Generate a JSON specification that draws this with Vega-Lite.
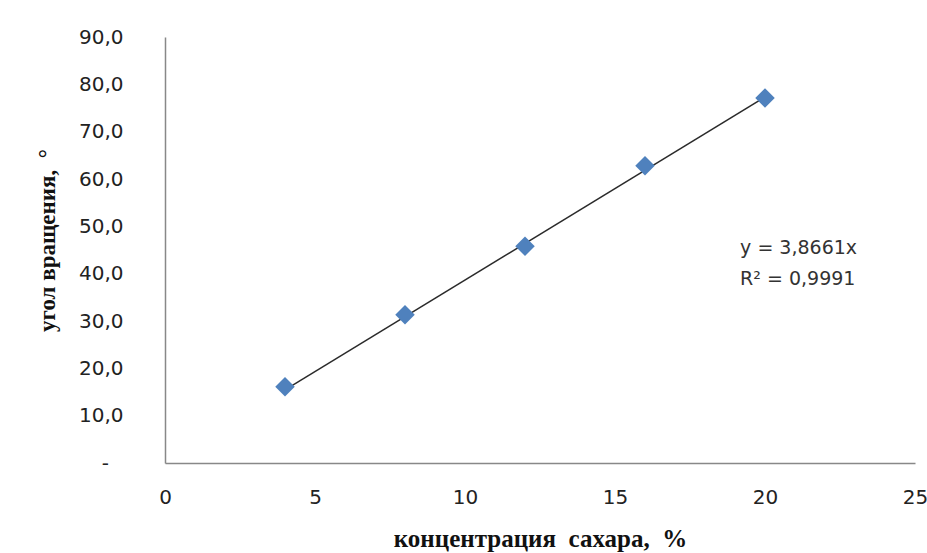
{
  "$schema": "https://vega.github.io/schema/vega-lite/v6.json",
  "width": 750,
  "height": 426,
  "autosize": "none",
  "padding": {"left": 165, "top": 37, "right": 12, "bottom": 90},
  "background": "white",
  "config": {"view": {"stroke": null}},
  "datasets": {
    "points": [
      {"conc": 4, "angle": 16.1},
      {"conc": 8, "angle": 31.3},
      {"conc": 12, "angle": 45.8},
      {"conc": 16, "angle": 62.8},
      {"conc": 20, "angle": 77.1}
    ],
    "trend": [
      {"conc": 4, "angle": 15.46},
      {"conc": 20, "angle": 77.32}
    ],
    "labels": [
      {"conc": 19.17, "angle": 45.4, "text": "y = 3,8661x"},
      {"conc": 19.17, "angle": 38.9, "text": "R² = 0,9991"}
    ]
  },
  "layer": [
    {
      "data": {"name": "trend"},
      "mark": {"type": "line", "color": "#2b2b2b", "strokeWidth": 1.5},
      "encoding": {
        "x": {"field": "conc", "type": "quantitative", "scale": {"domain": [0, 25], "nice": false, "zero": true},
          "axis": {"title": "концентрация\u00a0\u00a0сахара,\u00a0\u00a0%", "values": [0, 5, 10, 15, 20, 25], "grid": false, "ticks": false,
            "domainColor": "#888888", "domainWidth": 1.5, "labelFont": "DejaVu Sans", "labelFontSize": 20, "labelColor": "#222222",
            "labelPadding": 24, "labelFlush": false, "labelOverlap": false,
            "titleFont": "Liberation Serif", "titleFontWeight": "bold", "titleFontSize": 25, "titleColor": "#111111",
            "titleBaseline": "alphabetic", "titleY": 83}},
        "y": {"field": "angle", "type": "quantitative", "scale": {"domain": [0, 90], "nice": false},
          "axis": {"title": "угол вращения,\u00a0\u00a0°", "values": [0, 10, 20, 30, 40, 50, 60, 70, 80, 90], "grid": false, "ticks": false,
            "domainColor": "#888888", "domainWidth": 1.5, "labelFont": "DejaVu Sans", "labelFontSize": 20, "labelColor": "#222222",
            "labelPadding": 42, "labelOverlap": false, "labelFlush": false,
            "labelExpr": "datum.value == 0 ? '-\u2800' : replace(format(datum.value, '.1f'), '.', ',')",
            "titleFont": "Liberation Serif", "titleFontWeight": "bold", "titleFontSize": 23, "titleColor": "#111111",
            "titleX": -111, "titleY": 203, "titleBaseline": "alphabetic"}}
      }
    },
    {
      "data": {"name": "points"},
      "mark": {"type": "point", "shape": "diamond", "filled": true, "size": 380, "color": "#4F81BD", "opacity": 1},
      "encoding": {
        "x": {"field": "conc", "type": "quantitative"},
        "y": {"field": "angle", "type": "quantitative"}
      }
    },
    {
      "data": {"name": "labels"},
      "mark": {"type": "text", "align": "left", "baseline": "middle", "font": "DejaVu Sans", "fontSize": 19, "color": "#333333"},
      "encoding": {
        "x": {"field": "conc", "type": "quantitative"},
        "y": {"field": "angle", "type": "quantitative"},
        "text": {"field": "text"}
      }
    }
  ]
}
